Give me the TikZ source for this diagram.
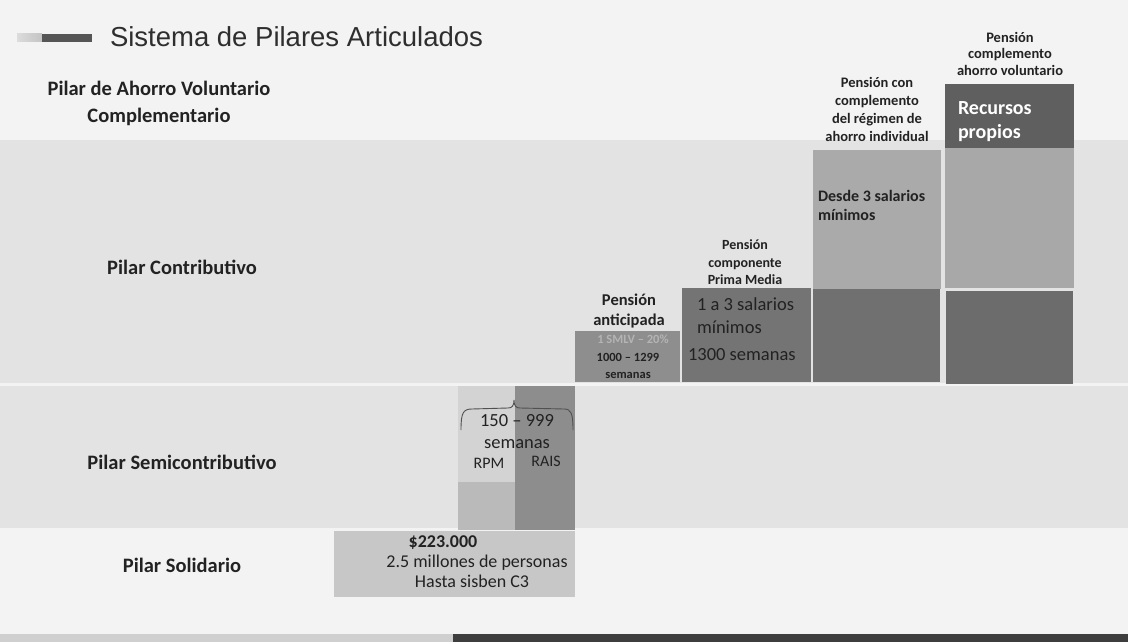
\documentclass[tikz,border=0pt]{standalone}
\usepackage{fontspec}
\setmainfont{Carlito}
\newfontfamily\titlefont{Liberation Sans}
\definecolor{bgc}{HTML}{F3F3F3}
\definecolor{band}{HTML}{E3E3E3}
\definecolor{txt}{HTML}{222222}
\definecolor{ttlc}{HTML}{2E2E2E}
\definecolor{solidc}{HTML}{C7C7C7}
\definecolor{rpmup}{HTML}{D3D3D3}
\definecolor{rpmlo}{HTML}{BABABA}
\definecolor{rais}{HTML}{8D8D8D}
\definecolor{antic}{HTML}{8E8E8E}
\definecolor{prima}{HTML}{747474}
\definecolor{cthreeup}{HTML}{AAAAAA}
\definecolor{cthreelo}{HTML}{707070}
\definecolor{cfourtop}{HTML}{5F5F5F}
\definecolor{cfourmid}{HTML}{A8A8A8}
\definecolor{cfourlo}{HTML}{6C6C6C}
\definecolor{tbl}{HTML}{C4C4C4}
\definecolor{tbd}{HTML}{555555}
\definecolor{stripl}{HTML}{CFCFCF}
\definecolor{stripd}{HTML}{3D3D3D}
\definecolor{faint}{HTML}{B4B4B4}
\definecolor{brc}{HTML}{505050}
\begin{document}
\begin{tikzpicture}[x=1pt,y=-1pt,
  every node/.style={inner sep=0pt, outer sep=0pt, text=txt},
  pilar/.style={font=\bfseries\fontsize{20.5}{27}\selectfont, align=center},
  coltitle/.style={font=\bfseries\fontsize{14.5}{18.3}\selectfont, align=center},
  inbig/.style={font=\fontsize{18.5}{20}\selectfont, anchor=west},
  inbold/.style={font=\bfseries\fontsize{16}{19}\selectfont, anchor=west},
  insmall/.style={font=\bfseries\fontsize{12.5}{15}\selectfont},
  solid/.style={font=\fontsize{18}{19}\selectfont}]
\useasboundingbox (0,0) rectangle (1128,642);
% background and bands
\fill[bgc] (0,0) rectangle (1128,642);
\fill[band] (0,140) rectangle (1128,383);
\fill[band] (0,386) rectangle (1128,528);
% bottom strip
\fill[stripl] (0,634) rectangle (453,642);
\fill[stripd] (453,634) rectangle (1128,642);
% title
\shade[left color=tbl!60, right color=tbl] (17,34) rectangle (42,42);
\fill[tbd] (42,34) rectangle (92,42);
\node[anchor=base west, font=\titlefont\fontsize{27.5}{30}\selectfont, text=ttlc] (title) at (110,47) {Sistema de Pilares Articulados};
% left labels
\node[pilar] (ahorro) at (159,103.5) {Pilar de Ahorro Voluntario\\Complementario};
\node[pilar] (contrib) at (182,267) {Pilar Contributivo};
\node[pilar] (semi) at (182,462) {Pilar Semicontributivo};
\node[pilar] (solidlab) at (182,565) {Pilar Solidario};
% solidario block
\fill[solidc] (334,531) rectangle (575,597);
\node[solid, font=\bfseries\fontsize{18}{19}\selectfont] (monto) at (443,543) {\$223.000};
\node[solid] (millones) at (477,563) {2.5 millones de personas};
\node[solid] (sisben) at (472,581) {Hasta sisben C3};
% semicontributivo blocks
\fill[rpmup] (458,386) rectangle (515,482);
\fill[rpmlo] (458,482) rectangle (515,530);
\fill[rais] (515,386) rectangle (575,530);
\draw[brc, line width=0.9pt] (461,430) .. controls (461,413) and (463,409) .. (472,409) -- (508,408) .. controls (512,408) and (514,406) .. (514,400) .. controls (514,406) and (516,408) .. (520,408) -- (564,409) .. controls (571,409) and (573,413) .. (573,430);
\node[font=\fontsize{18.5}{20}\selectfont] (rango) at (517,421) {150 – 999};
\node[font=\fontsize{18.5}{20}\selectfont] (semanas) at (517,444) {semanas};
\node[font=\fontsize{16}{18}\selectfont] (rpm) at (489,463) {RPM};
\node[font=\fontsize{16}{18}\selectfont] (rais) at (546,461) {RAIS};
% pension anticipada
\fill[antic] (575,331) rectangle (680,382);
\node[font=\bfseries\fontsize{16.5}{20}\selectfont, align=center] (antictitle) at (629,311) {Pensión\\anticipada};
\node[insmall, text=faint] (smlv) at (633,339) {1 SMLV – 20\%};
\node[insmall] (rangoant) at (628,357) {1000 – 1299};
\node[insmall] (semant) at (628,375) {semanas};
% prima media
\fill[prima] (682,288) rectangle (811,382);
\node[font=\bfseries\fontsize{14}{17.5}\selectfont, align=center] (primatitle) at (745,262.5) {Pensión\\componente\\Prima Media};
\node[inbig] (sal13) at (697,304) {1 a 3 salarios};
\node[inbig] (min13) at (697,327) {mínimos};
\node[inbig] (sem1300) at (688,355) {1300 semanas};
% regimen ahorro individual
\fill[cthreeup] (813,150) rectangle (941,289);
\fill[cthreelo] (813,289) rectangle (940,382);
\node[coltitle] (indivtitle) at (877,109.5) {Pensión con\\complemento\\del régimen de\\ahorro individual};
\node[inbold] (desde) at (818,196) {Desde 3 salarios};
\node[inbold] (mindesde) at (818,215) {mínimos};
% ahorro voluntario
\fill[cfourtop] (945,84) rectangle (1074,148);
\fill[cfourmid] (945,148) rectangle (1074,288);
\fill[cfourlo] (946,291) rectangle (1073,384);
\node[font=\bfseries\fontsize{14.5}{16.5}\selectfont, align=center] (voltitle) at (1010,53.5) {Pensión\\complemento\\ahorro voluntario};
\node[font=\bfseries\fontsize{20}{24}\selectfont, anchor=west, text=white] (recursos) at (958,108) {Recursos};
\node[font=\bfseries\fontsize{20}{24}\selectfont, anchor=west, text=white] (propios) at (958,133) {propios};
\end{tikzpicture}
\end{document}
